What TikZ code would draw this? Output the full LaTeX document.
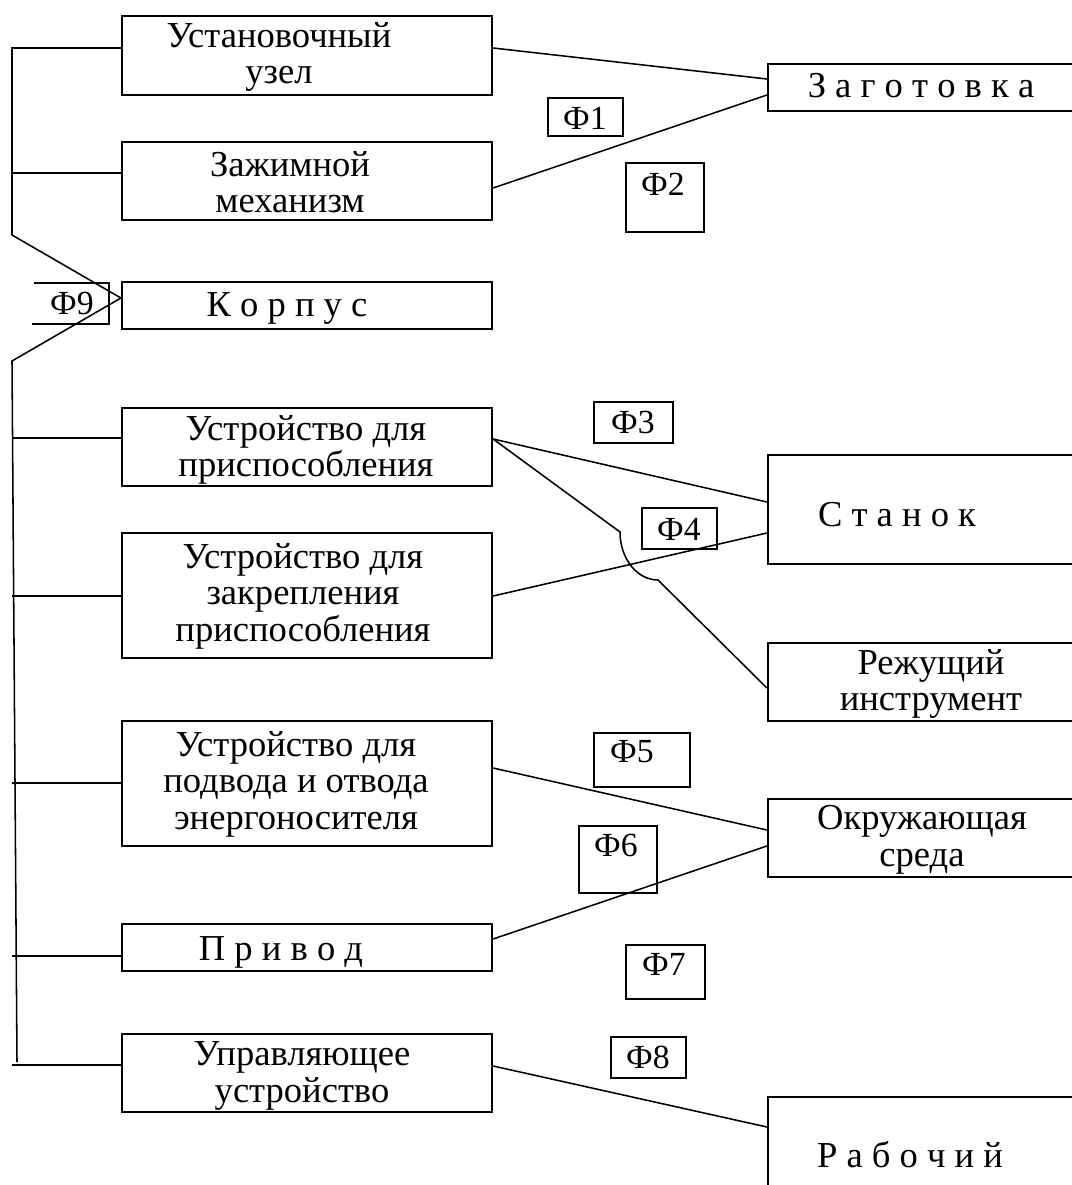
\documentclass[tikz,border=0pt]{standalone}
\usepackage{fontspec}
\setmainfont{Liberation Serif}
\usetikzlibrary{positioning, calc}
\tikzset{
  blk/.style={draw, line width=1.5pt, minimum width=9.25cm, inner sep=0pt},
  side/.style={draw, line width=1.5pt, minimum width=8.05cm, inner sep=0pt},
  tx/.style={align=center, inner sep=0pt, font=\fontsize{26}{26}\selectfont},
  spaced/.style={tx},
  flab/.style={tx, font=\fontsize{24}{26}\selectfont},
  link/.style={line width=1.1pt},
  fram/.style={line width=1pt},
}
\begin{document}
\begin{tikzpicture}[x=0.025cm, y=-0.025cm]
  \clip (0,0) rectangle (1072,1185);
  % left column
  \node[blk, minimum height=1.975cm] (ust) at (307,55.5) {};
  \node[blk, minimum height=1.95cm] (zaj) at (307,181) {};
  \node[blk, minimum height=1.175cm] (korp) at (307,305.5) {};
  \node[blk, minimum height=1.95cm] (pri) at (307,447) {};
  \node[blk, minimum height=3.125cm] (zak) at (307,595.5) {};
  \node[blk, minimum height=3.125cm] (ener) at (307,783.5) {};
  \node[blk, minimum height=1.175cm] (priv) at (307,947.5) {};
  \node[blk, minimum height=1.95cm] (upr) at (307,1073) {};
  \node[tx] (ustT) at (279,57) {Установочный\\узел};
  \node[tx] (zajT) at (290,182) {Зажимной\\механизм};
  \node[spaced] (korpT) at (287,308) {К о р п у с};
  \node[tx] (priT) at (306,450) {Устройство для\\приспособления};
  \node[tx] (zakT) at (303,596) {Устройство для\\закрепления\\приспособления};
  \node[tx] (enerT) at (296,784) {Устройство для\\подвода и отвода\\энергоносителя};
  \node[spaced] (privT) at (281,952) {П р и в о д};
  \node[tx] (uprT) at (302,1076) {Управляющее\\устройство};
  % right column
  \node[side, minimum height=1.175cm] (zag) at (929,87.5) {};
  \node[side, minimum height=2.725cm] (stan) at (929,509.5) {};
  \node[side, minimum height=1.95cm] (rez) at (929,682) {};
  \node[side, minimum height=1.95cm] (okr) at (929,838) {};
  \node[side, minimum height=2.95cm] (rab) at (929,1156) {};
  \node[spaced] (zagT) at (921,86) {З а г о т о в к а};
  \node[spaced] (stanT) at (897,515) {С т а н о к};
  \node[tx] (rezT) at (931,684) {Режущий\\инструмент};
  \node[tx] (okrT) at (922,840) {Окружающая\\среда};
  \node[spaced] (rabT) at (910,1155) {Р а б о ч и й};
  % bus on the left
  \coordinate (bend) at (12,235);
  \coordinate (low) at (12,361);
  \coordinate (bot) at (17,1062);
  \draw[link] (ust.west |- 0,48) -| (bend) -- (korp.west |- 0,298) -- (low) -- (bot);
  \foreach \b/\y in {zaj/173, pri/438, zak/596, ener/783, priv/956, upr/1065}
    \draw[link] (12,\y) -- (\b.west |- 0,\y);
  % links to the right
  \foreach \a/\ya/\b/\yb in {ust/48/zag/79, zaj/188/zag/95, pri/439/stan/502, zak/596/stan/533, ener/768/okr/830, priv/939/okr/846, upr/1066/rab/1127}
    \draw[link] (\a.east |- 0,\ya) -- (\b.west |- 0,\yb);
  \draw[link] (pri.east |- 0,439) -- (620,532) .. controls (620,558.5) and (637,580) .. (658,580) -- (rez.west |- 0,688);
  % function labels
  \foreach \n/\xa/\ya/\xb/\yb/\tx/\ty in {1/548/98/623/136/585/118, 2/626/163/704/232/663/184, 3/594/402/673/443/633/422, 4/642/508/717/549/679/529, 5/594/733/690/787/632/752, 6/579/826/657/893/616/845, 7/626/945/705/999/664/964, 8/611/1037/686/1078/648/1057}{
    \draw[fram] (\xa,\ya) rectangle (\xb,\yb);
    \node[flab] (f\n) at (\tx,\ty) {Ф\n};
  }
  \node[flab] (f9) at (72,303) {Ф9};
  \draw[fram] (34,283) -- (109,283) -- (109,324) -- (32,324);
\end{tikzpicture}
\end{document}
